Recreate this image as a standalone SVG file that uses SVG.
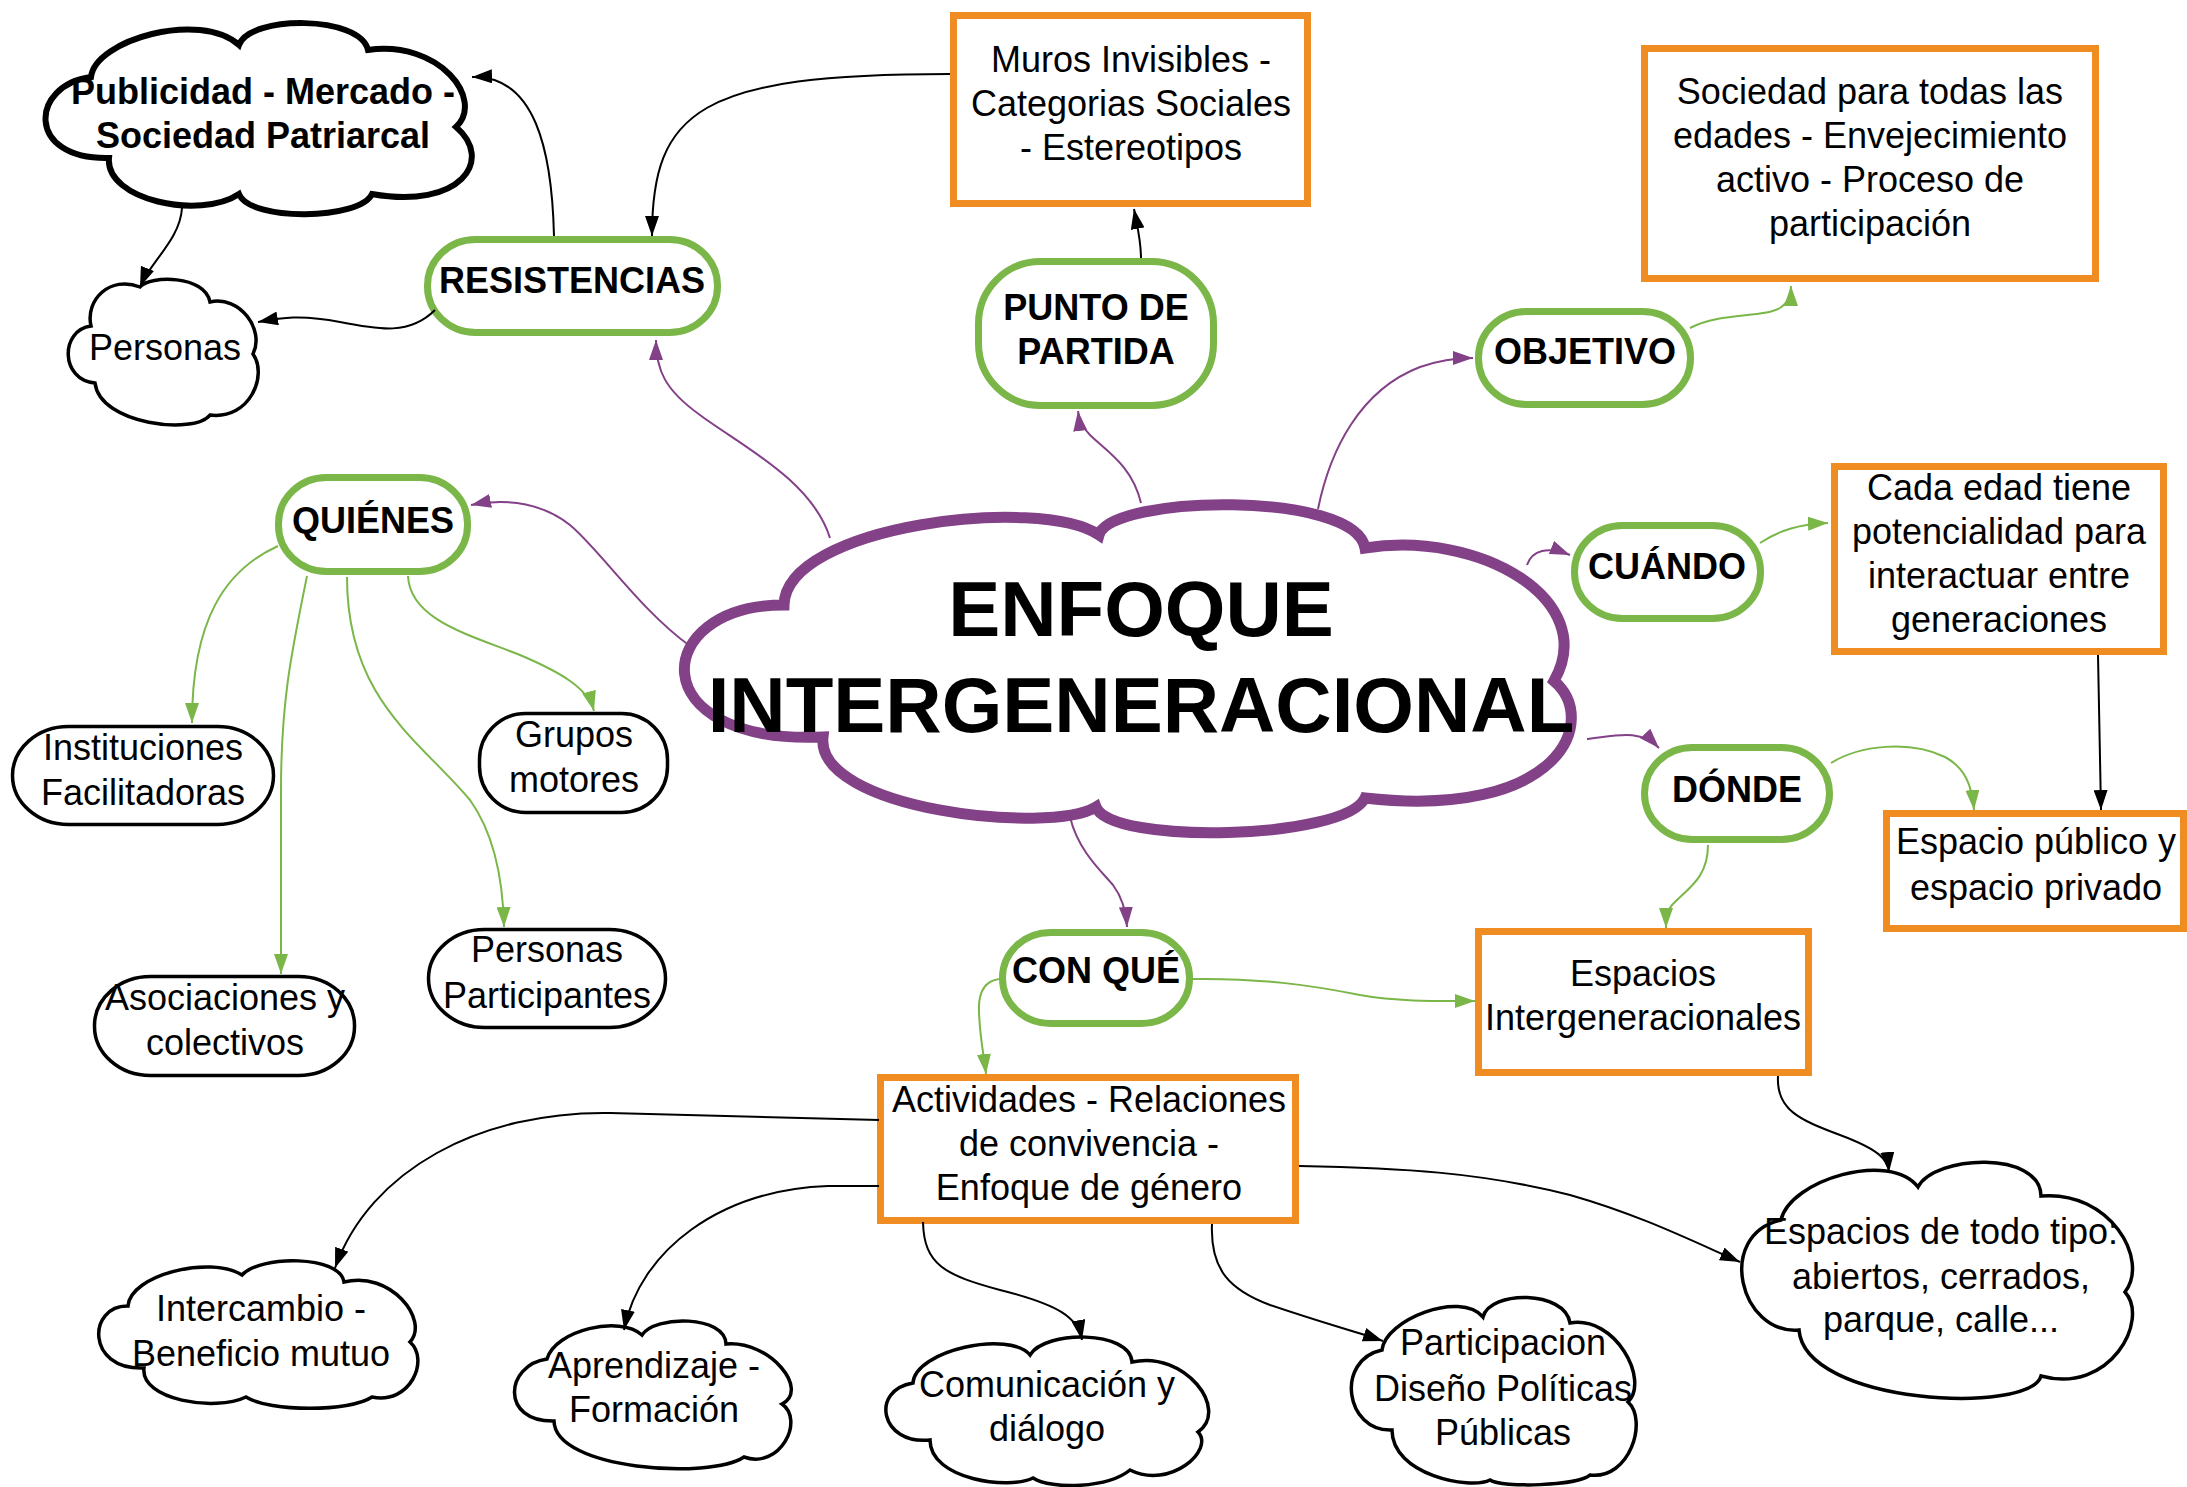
<svg xmlns="http://www.w3.org/2000/svg" width="2187" height="1487" viewBox="0 0 2187 1487">
<defs>
<style>
text{font-family:"Liberation Sans",Arial,Helvetica,sans-serif;fill:#000;text-anchor:middle}
.t{font-size:36px}
.b{font-size:36px;font-weight:bold}
.big{font-size:78px;font-weight:bold}
.gr{fill:#fff;stroke:#7ab648;stroke-width:7}
.or{fill:#fff;stroke:#ef8d22;stroke-width:7}
.bk{fill:#fff;stroke:#000;stroke-width:3.5}
.c{fill:none;stroke-width:2}
.ck{stroke:#000}
.cg{stroke:#7ab648}
.cp{stroke:#834187}
</style>
<marker id="ak" markerUnits="userSpaceOnUse" markerWidth="20" markerHeight="14" refX="20" refY="7" orient="auto"><path d="M0,0 L20,7 L0,14 Z" fill="#000"/></marker>
<marker id="ag" markerUnits="userSpaceOnUse" markerWidth="20" markerHeight="14" refX="20" refY="7" orient="auto"><path d="M0,0 L20,7 L0,14 Z" fill="#7ab648"/></marker>
<marker id="ap" markerUnits="userSpaceOnUse" markerWidth="20" markerHeight="14" refX="20" refY="7" orient="auto"><path d="M0,0 L20,7 L0,14 Z" fill="#834187"/></marker>
</defs>
<rect width="2187" height="1487" fill="#fff"/>

<g id="n-central">
<path d="M784,605 C786,525 1040,495 1099,535 C1110,495 1355,490 1365,548 C1480,530 1600,600 1554,681 C1600,720 1560,820 1365,798 C1345,840 1110,845 1096,807 C1050,835 815,810 823,737 C640,745 650,605 784,605 Z" fill="#fff" stroke="#834187" stroke-width="11" stroke-linejoin="miter"/>
<text class="big" x="1141" y="636">ENFOQUE</text>
<text class="big" x="1141" y="732">INTERGENERACIONAL</text>
</g>

<g id="n-publicidad">
<path d="M91,77 C95,40 200,10 239,45 C250,15 360,15 368,50 C440,40 485,100 456,127 C495,160 460,210 372,194 C360,220 250,222 239,194 C200,220 105,200 109,158 C25,160 30,85 91,77 Z" fill="#fff" stroke="#000" stroke-width="6"/>
<text class="b"><tspan x="263" y="104">Publicidad - Mercado -</tspan><tspan x="263" y="148">Sociedad Patriarcal</tspan></text>
</g>

<g id="n-personas">
<path d="M91,326 C85,300 110,275 140,287 C150,275 205,275 210,302 C240,295 265,330 253,354 C268,375 250,420 210,415 C195,435 100,425 95,383 C60,380 60,330 91,326 Z" class="bk" stroke-width="3"/>
<text class="t" x="165" y="360">Personas</text>
</g>

<g id="n-resistencias">
<rect class="gr" x="427.5" y="239.5" width="290" height="93" rx="48" ry="46"/>
<text class="b" x="572" y="293">RESISTENCIAS</text>
</g>

<g id="n-muros">
<rect class="or" x="953.5" y="15.5" width="354" height="188"/>
<text class="t"><tspan x="1131" y="72">Muros Invisibles -</tspan><tspan x="1131" y="116">Categorias Sociales</tspan><tspan x="1131" y="160">- Estereotipos</tspan></text>
</g>

<g id="n-punto">
<rect class="gr" x="978.5" y="261.5" width="235" height="144" rx="62" ry="62"/>
<text class="b"><tspan x="1096" y="320">PUNTO DE</tspan><tspan x="1096" y="364">PARTIDA</tspan></text>
</g>

<g id="n-sociedad">
<rect class="or" x="1644.5" y="48.5" width="451" height="230"/>
<text class="t"><tspan x="1870" y="104">Sociedad para todas las</tspan><tspan x="1870" y="148">edades - Envejecimiento</tspan><tspan x="1870" y="192">activo - Proceso de</tspan><tspan x="1870" y="236">participación</tspan></text>
</g>

<g id="n-objetivo">
<rect class="gr" x="1478.5" y="311.5" width="212" height="93" rx="48" ry="46"/>
<text class="b" x="1585" y="364">OBJETIVO</text>
</g>

<g id="n-cuando">
<rect class="gr" x="1574.5" y="525.5" width="186" height="93" rx="48" ry="46"/>
<text class="b" x="1667" y="579">CUÁNDO</text>
</g>

<g id="n-cada">
<rect class="or" x="1834.5" y="466.5" width="329" height="185"/>
<text class="t"><tspan x="1999" y="500">Cada edad tiene</tspan><tspan x="1999" y="544">potencialidad para</tspan><tspan x="1999" y="588">interactuar entre</tspan><tspan x="1999" y="632">generaciones</tspan></text>
</g>

<g id="n-quienes">
<rect class="gr" x="278.5" y="477.5" width="189" height="94" rx="48" ry="46"/>
<text class="b" x="373" y="533">QUIÉNES</text>
</g>

<g id="n-instituciones">
<rect class="bk" x="12.5" y="726.5" width="261" height="98" rx="56" ry="49"/>
<text class="t"><tspan x="143" y="760">Instituciones</tspan><tspan x="143" y="805">Facilitadoras</tspan></text>
</g>

<g id="n-grupos">
<rect class="bk" stroke-width="5" x="479.5" y="713.5" width="188" height="99" rx="46" ry="46"/>
<text class="t"><tspan x="574" y="747">Grupos</tspan><tspan x="574" y="792">motores</tspan></text>
</g>

<g id="n-asociaciones">
<rect class="bk" x="94.5" y="976.5" width="260" height="99" rx="56" ry="49"/>
<text class="t"><tspan x="225" y="1010">Asociaciones y</tspan><tspan x="225" y="1055">colectivos</tspan></text>
</g>

<g id="n-participantes">
<rect class="bk" x="428.5" y="929.5" width="237" height="98" rx="56" ry="49"/>
<text class="t"><tspan x="547" y="962">Personas</tspan><tspan x="547" y="1008">Participantes</tspan></text>
</g>

<g id="n-donde">
<rect class="gr" x="1644.5" y="747.5" width="185" height="92" rx="48" ry="46"/>
<text class="b" x="1737" y="802">DÓNDE</text>
</g>

<g id="n-espacio-publico">
<rect class="or" x="1886.5" y="813.5" width="297" height="115"/>
<text class="t"><tspan x="2036" y="854">Espacio público y</tspan><tspan x="2036" y="900">espacio privado</tspan></text>
</g>

<g id="n-conque">
<rect class="gr" x="1002.5" y="932.5" width="187" height="91" rx="48" ry="45"/>
<text class="b" x="1096" y="983">CON QUÉ</text>
</g>

<g id="n-espacios-inter">
<rect class="or" x="1478.5" y="931.5" width="330" height="141"/>
<text class="t"><tspan x="1643" y="986">Espacios</tspan><tspan x="1643" y="1030">Intergeneracionales</tspan></text>
</g>

<g id="n-actividades">
<rect class="or" x="880.5" y="1077.5" width="415" height="143"/>
<text class="t"><tspan x="1089" y="1112">Actividades - Relaciones</tspan><tspan x="1089" y="1156">de convivencia -</tspan><tspan x="1089" y="1200">Enfoque de género</tspan></text>
</g>

<g id="n-todo-tipo">
<path d="M1781,1220 C1790,1180 1890,1150 1918,1187 C1935,1155 2040,1150 2041,1196 C2110,1190 2150,1260 2125,1292 C2150,1320 2110,1395 2041,1376 C2030,1415 1805,1405 1799,1330 C1740,1335 1715,1235 1781,1220 Z" class="bk"/>
<text class="t"><tspan x="1941" y="1244">Espacios de todo tipo:</tspan><tspan x="1941" y="1289">abiertos, cerrados,</tspan><tspan x="1941" y="1332">parque, calle...</tspan></text>
</g>

<g id="n-intercambio">
<path d="M128,1306 C130,1275 210,1255 242,1275 C260,1255 340,1255 344,1282 C390,1270 430,1320 410,1342 C430,1360 410,1405 372,1397 C350,1412 270,1412 246,1397 C215,1412 140,1400 144,1368 C85,1370 88,1305 128,1306 Z" class="bk"/>
<text class="t"><tspan x="261" y="1321">Intercambio -</tspan><tspan x="261" y="1366">Beneficio mutuo</tspan></text>
</g>

<g id="n-aprendizaje">
<path d="M547,1359 C555,1330 620,1315 642,1335 C655,1315 725,1315 726,1344 C770,1340 810,1390 782,1404 C805,1420 780,1470 744,1457 C710,1480 555,1470 554,1421 C500,1422 505,1365 547,1359 Z" class="bk"/>
<text class="t"><tspan x="654" y="1378">Aprendizaje -</tspan><tspan x="654" y="1422">Formación</tspan></text>
</g>

<g id="n-comunicacion">
<path d="M913,1383 C915,1350 1010,1330 1030,1355 C1045,1330 1130,1330 1132,1362 C1185,1350 1230,1410 1198,1432 C1215,1450 1170,1490 1130,1470 C1108,1488 1052,1490 1033,1478 C1010,1490 930,1480 930,1440 C880,1445 870,1390 913,1383 Z" class="bk"/>
<text class="t"><tspan x="1047" y="1397">Comunicación y</tspan><tspan x="1047" y="1441">diálogo</tspan></text>
</g>

<g id="n-participacion">
<path d="M1382,1350 C1385,1320 1460,1290 1483,1317 C1490,1290 1565,1290 1570,1323 C1615,1315 1650,1380 1628,1402 C1648,1420 1630,1480 1590,1475 C1578,1486 1502,1488 1490,1480 C1470,1490 1392,1475 1392,1430 C1345,1432 1335,1360 1382,1350 Z" class="bk"/>
<text class="t"><tspan x="1503" y="1355">Participacion</tspan><tspan x="1503" y="1401">Diseño Políticas</tspan><tspan x="1503" y="1445">Públicas</tspan></text>
</g>

<g id="connectors">
<path class="c cp" marker-end="url(#ap)" d="M830,538 C812,480 740,445 700,415 C665,390 656,370 656,340"/>
<path class="c cp" marker-end="url(#ap)" d="M690,646 C640,610 600,550 570,525 C545,505 510,497 471,505"/>
<path class="c cp" marker-end="url(#ap)" d="M1141,503 C1132,465 1105,450 1090,435 C1082,427 1079,420 1078,411"/>
<path class="c cp" marker-end="url(#ap)" d="M1318,509 C1330,450 1360,390 1420,367 C1440,360 1455,358 1473,358"/>
<path class="c cp" marker-end="url(#ap)" d="M1527,565 C1532,550 1548,546 1570,555"/>
<path class="c cp" marker-end="url(#ap)" d="M1587,739 C1615,736 1640,728 1659,748"/>
<path class="c cp" marker-end="url(#ap)" d="M1070,817 C1078,850 1100,870 1113,885 C1122,897 1126,910 1127,927"/>

<path class="c cg" marker-end="url(#ag)" d="M278,546 C225,570 192,620 192,723"/>
<path class="c cg" marker-end="url(#ag)" d="M307,576 C292,650 281,700 281,790 L281,974"/>
<path class="c cg" marker-end="url(#ag)" d="M347,577 C347,700 420,740 470,800 C495,835 503,880 504,927"/>
<path class="c cg" marker-end="url(#ag)" d="M408,576 C410,620 470,635 520,655 C560,672 588,688 594,711"/>
<path class="c cg" marker-end="url(#ag)" d="M1690,328 C1720,312 1762,318 1780,308 C1788,303 1791,296 1791,286"/>
<path class="c cg" marker-end="url(#ag)" d="M1760,543 C1780,530 1800,524 1828,523"/>
<path class="c cg" marker-end="url(#ag)" d="M1831,763 C1860,745 1910,740 1945,757 C1965,768 1972,785 1974,810"/>
<path class="c cg" marker-end="url(#ag)" d="M1708,845 C1708,880 1685,890 1672,905 C1666,912 1666,918 1666,928"/>
<path class="c cg" marker-end="url(#ag)" d="M1192,979 C1260,978 1310,985 1360,995 C1400,1002 1440,1001 1475,1001"/>
<path class="c cg" marker-end="url(#ag)" d="M999,979 C985,981 978,992 979,1012 C980,1040 984,1055 986,1074"/>

<path class="c ck" marker-end="url(#ak)" d="M554,236 C552,150 535,75 472,77"/>
<path class="c ck" marker-end="url(#ak)" d="M950,74 C700,74 652,110 652,236"/>
<path class="c ck" marker-end="url(#ak)" d="M182,208 C180,240 150,262 140,287"/>
<path class="c ck" marker-end="url(#ak)" d="M435,310 C410,335 380,330 340,322 C300,314 280,318 258,322"/>
<path class="c ck" marker-end="url(#ak)" d="M1141,258 C1141,240 1137,225 1134,209"/>
<path class="c ck" marker-end="url(#ak)" d="M2098,655 L2101,810"/>
<path class="c ck" marker-end="url(#ak)" d="M1778,1076 C1776,1110 1800,1120 1840,1135 C1880,1150 1888,1160 1889,1172"/>
<path class="c ck" marker-end="url(#ak)" d="M1299,1166 C1400,1168 1480,1172 1570,1195 C1640,1215 1690,1240 1740,1262"/>
<path class="c ck" marker-end="url(#ak)" d="M879,1120 L610,1113 C480,1111 370,1170 335,1268"/>
<path class="c ck" marker-end="url(#ak)" d="M879,1186 L828,1186 C720,1190 640,1250 624,1330"/>
<path class="c ck" marker-end="url(#ak)" d="M923,1222 C924,1265 945,1275 1000,1290 C1060,1305 1078,1318 1082,1340"/>
<path class="c ck" marker-end="url(#ak)" d="M1212,1224 C1210,1270 1230,1290 1270,1305 C1320,1322 1350,1330 1383,1341"/>
</g>
</svg>
